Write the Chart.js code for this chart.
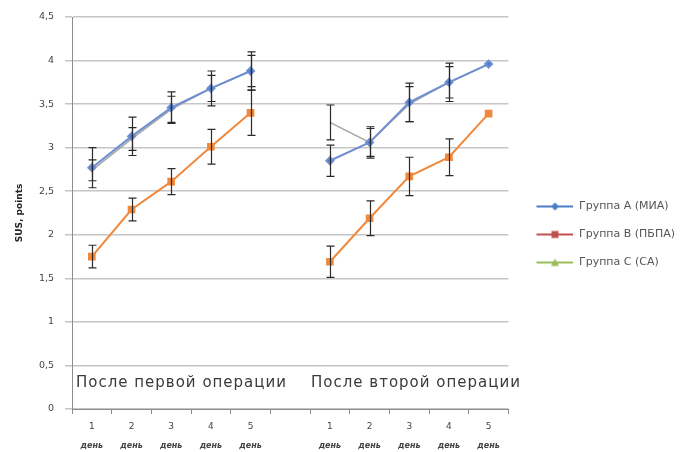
<!DOCTYPE html>
<html><head><meta charset="utf-8">
<script src="https://cdn.jsdelivr.net/npm/chart.js@4"></script>
<style>html,body{margin:0;padding:0;background:#fff}#wrap{width:691px;height:452px;position:relative}</style>
</head><body><div id="wrap"><canvas id="c"></canvas></div>
<script>
const categories = ['1','2','3','4','5','','1','2','3','4','5'];
const dayLabel = 'день';
const sectionLabels = ['После первой операции','После второй операции'];
const seriesNames = ['Группа А (МИА)','Группа В (ПБПА)','Группа С (СА)'];
const groupA    = [2.77,3.13,3.46,3.68,3.88,null,2.85,3.06,3.52,3.75,3.96];
const groupAErr = [0.23,0.22,0.18,0.20,0.22,null,0.18,0.18,0.22,0.22,0];
const groupB    = [1.75,2.29,2.61,3.01,3.40,null,1.69,2.19,2.67,2.89,3.39];
const groupBErr = [0.13,0.13,0.15,0.20,0.26,null,0.18,0.20,0.22,0.21,0];
const groupC    = [2.74,3.10,3.44,3.68,3.88,null,3.29,3.06,3.50,3.75,3.96];
const groupCErr = [0.12,0.13,0.15,0.15,0.18,null,0.20,0.16,0.20,0.18,0];
const yAxisTitle = 'SUS, points';
const FONT = '"DejaVu Sans", "Liberation Sans", Arial, sans-serif';

function legendIcon(color, shape){
  const cv = document.createElement('canvas');
  const blank = 11, len = 37;
  cv.width = blank + len; cv.height = 10;
  const g = cv.getContext('2d');
  g.strokeStyle = color; g.lineWidth = 2;
  g.beginPath(); g.moveTo(blank,5); g.lineTo(blank+len,5); g.stroke();
  g.fillStyle = color;
  const cx = blank + len/2;
  g.beginPath();
  if(shape==='diamond'){ g.moveTo(cx,1); g.lineTo(cx+4,5); g.lineTo(cx,9); g.lineTo(cx-4,5); g.closePath(); }
  else if(shape==='square'){ g.rect(cx-3.5,1.5,7,7); }
  else { g.moveTo(cx,1); g.lineTo(cx+4,8.5); g.lineTo(cx-4,8.5); g.closePath(); }
  g.fill();
  return cv;
}
const legendIcons = [legendIcon('#4a7cc9','diamond'), legendIcon('#c0504d','square'), legendIcon('#9bbb59','triangle')];
const errArrays = [groupCErr, groupBErr, groupAErr];

const errorBars = {
  id:'errorBars',
  afterDatasetsDraw(chart){
    const ctx = chart.ctx, y = chart.scales.y;
    ctx.save();
    ctx.strokeStyle = '#2b2b2b'; ctx.lineWidth = 1.2;
    chart.data.datasets.forEach((ds,i)=>{
      const meta = chart.getDatasetMeta(i);
      const errs = errArrays[i];
      ds.data.forEach((v,j)=>{
        if(v==null || !errs[j]) return;
        const px = Math.round(meta.data[j].x)+0.5;
        const t = y.getPixelForValue(v+errs[j]), b = y.getPixelForValue(v-errs[j]);
        ctx.beginPath();
        ctx.moveTo(px,t); ctx.lineTo(px,b);
        ctx.moveTo(px-4,t); ctx.lineTo(px+4,t);
        ctx.moveTo(px-4,b); ctx.lineTo(px+4,b);
        ctx.stroke();
      });
    });
    ctx.restore();
  }
};

const extraText = {
  id:'extraText',
  afterDraw(chart){
    const ctx = chart.ctx, x = chart.scales.x, y = chart.scales.y;
    const half = (x.getPixelForValue(1)-x.getPixelForValue(0))/2;
    ctx.save();
    ctx.fillStyle = '#3a3a3a';
    ctx.font = '15px ' + FONT;
    ctx.letterSpacing = '1px';
    ctx.textBaseline = 'middle'; ctx.textAlign = 'left';
    ctx.fillText(sectionLabels[0], x.getPixelForValue(0)-half+4, y.getPixelForValue(0.3));
    ctx.fillText(sectionLabels[1], x.getPixelForValue(6)-half+1, y.getPixelForValue(0.3));
    ctx.letterSpacing = '0px';
    ctx.font = 'italic bold 8px ' + FONT;
    ctx.fillStyle = '#444';
    ctx.textAlign = 'center';
    categories.forEach((c,i)=>{
      if(!c) return;
      ctx.fillText(dayLabel, x.getPixelForValue(i), 446);
    });
    ctx.restore();
  }
};

new Chart(document.getElementById('c'), {
  type:'line',
  data:{
    labels: categories,
    datasets:[
      {label:seriesNames[2], data:groupC, borderColor:'#a6a6a6', backgroundColor:'#a6a6a6', borderWidth:1.5, pointStyle:'triangle', pointRadius:0, order:3},
      {label:seriesNames[1], data:groupB, borderColor:'#f0893b', backgroundColor:'#f0893b', borderWidth:2, pointStyle:'rect', pointRadius:4, order:2},
      {label:seriesNames[0], data:groupA, borderColor:'#6f8fd2', backgroundColor:'#4a7cc9', borderWidth:2, pointStyle:'rectRot', pointRadius:3.5, order:1}
    ]
  },
  options:{
    responsive:true, maintainAspectRatio:false, animation:false,
    spanGaps:false,
    layout:{padding:{left:0,right:6,top:17,bottom:0}},
    plugins:{
      tooltip:{enabled:false},
      legend:{
        position:'right',
        maxWidth:184,
        labels:{
          usePointStyle:true, pointStyleWidth:48, boxHeight:10,
          padding:17,
          color:'#555',
          font:{size:11, family:FONT},
          generateLabels(chart){
            return [0,1,2].map(k=>({text:seriesNames[k], pointStyle:legendIcons[k], fillStyle:'#fff', strokeStyle:'#fff', lineWidth:0, hidden:false, datasetIndex:2-k, fontColor:'#555'}));
          }
        }
      }
    },
    scales:{
      x:{
        offset:true,
        grid:{offset:true, drawOnChartArea:false, drawTicks:true, tickLength:5, color:'#8c8c8c'},
        border:{color:'#8c8c8c'},
        ticks:{color:'#444', font:{size:9, family:FONT}, padding:7, maxRotation:0, autoSkip:false},
        afterFit(s){ s.height = 43; }
      },
      y:{
        min:0, max:4.5,
        ticks:{stepSize:0.5, color:'#444', padding:11, font:{size:9.5, family:FONT}, callback:v=>String(v).replace('.',',')},
        grid:{color:'#c6c6c6', lineWidth:1.5, tickLength:7},
        border:{color:'#8c8c8c'},
        title:{display:true, text:yAxisTitle, color:'#222', font:{size:9, weight:'bold', family:FONT}, padding:{top:14, bottom:0}},
        afterFit(s){ s.width = 72; }
      }
    }
  },
  plugins:[errorBars, extraText]
});
</script>
</body></html>
